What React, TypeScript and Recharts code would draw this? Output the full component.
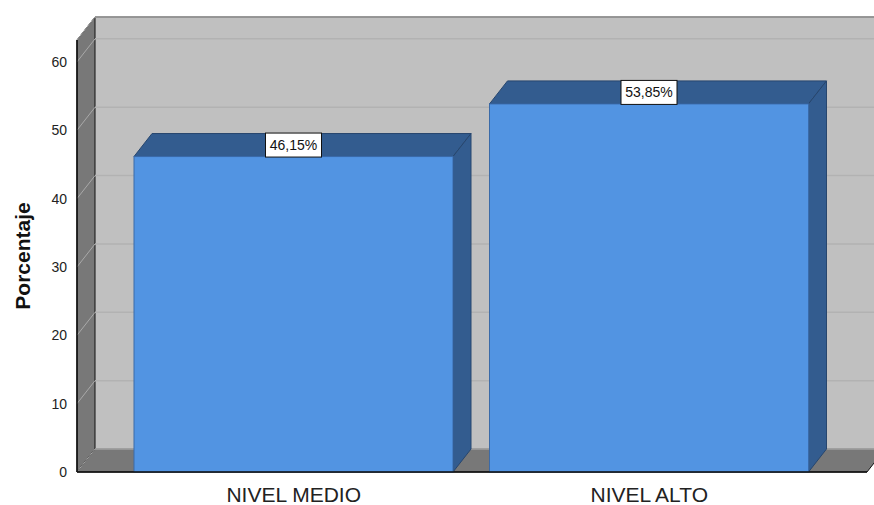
import React from 'react'
import { BarChart, Bar, XAxis, YAxis, CartesianGrid, LabelList } from 'recharts'

const categories = ['NIVEL MEDIO', 'NIVEL ALTO']
const percentages = [46.15, 53.85]
const yTicks = [0, 10, 20, 30, 40, 50, 60]

const data = categories.map((nivel, i) => ({ nivel, pct: percentages[i] }))

const W = 874
const H = 505
const LEFT = 77
const TOP = 40
const BOTTOM = 472
const RIGHT = 867
const DX = 18
const DY = 23
const FONT = '"Liberation Sans", Arial, sans-serif'

const fmt = (v: number) => v.toFixed(2).replace('.', ',') + '%'

function Bar3D(props: any) {
  const { x, y, width, height } = props
  const side = '#335c8f'
  return (
    <g>
      <polygon
        points={`${x},${y} ${x + DX},${y - DY} ${x + width + DX},${y - DY} ${x + width},${y}`}
        fill={side} stroke="#27466e" strokeWidth={1}
      />
      <polygon
        points={`${x + width},${y} ${x + width + DX},${y - DY} ${x + width + DX},${y + height - DY} ${x + width},${y + height}`}
        fill={side} stroke="#27466e" strokeWidth={1}
      />
      <rect x={x} y={y} width={width} height={height} fill="#5294e2" stroke="#3a6aa8" strokeWidth={1} />
    </g>
  )
}

function ValueBox(props: any) {
  const { x, y, width, value } = props
  const cx = x + width / 2
  const cy = y - DY / 2
  return (
    <g>
      <rect x={cx - 28} y={cy - 12} width={56} height={24} fill="#fff" stroke="#111" strokeWidth={1} />
      <text x={cx} y={cy + 5} textAnchor="middle" fontSize={14} fontFamily={FONT} fill="#111">
        {fmt(value)}
      </text>
    </g>
  )
}

function GridLine(props: any) {
  const { x1, y1, x2 } = props
  return (
    <g>
      <line x1={x1} y1={y1} x2={x1 + DX} y2={y1 - DY} stroke="#a9a9a9" strokeWidth={1} />
      <line x1={x1 + DX} y1={y1 - DY} x2={x2 + DX} y2={y1 - DY} stroke="#b2b2b2" strokeWidth={1.5} />
    </g>
  )
}

function YTick(props: any) {
  const { x, y, payload } = props
  return (
    <text x={x - 2} y={y + 5} textAnchor="end" fontSize={14} fontFamily={FONT} fill="#222">
      {payload.value}
    </text>
  )
}

function XTick(props: any) {
  const { x, payload } = props
  return (
    <text x={x} y={BOTTOM + 30} textAnchor="middle" fontSize={21} fontFamily={FONT} fill="#222">
      {payload.value}
    </text>
  )
}

function Walls() {
  return (
    <svg width={W} height={H} style={{ position: 'absolute', left: 0, top: 0 }}>
      <rect x={LEFT + DX} y={TOP - DY} width={W} height={BOTTOM - TOP} fill="#c0c0c0" />
      <line x1={LEFT + DX} y1={TOP - DY} x2={W} y2={TOP - DY} stroke="#111" strokeWidth={1.5} />
      <polygon
        points={`${LEFT},${TOP} ${LEFT + DX},${TOP - DY} ${LEFT + DX},${BOTTOM - DY} ${LEFT},${BOTTOM}`}
        fill="#787878" stroke="#111" strokeWidth={1}
      />
      <polygon
        points={`${LEFT},${BOTTOM} ${LEFT + DX},${BOTTOM - DY} ${RIGHT + DX},${BOTTOM - DY} ${RIGHT},${BOTTOM}`}
        fill="#787878" stroke="#111" strokeWidth={1}
      />
    </svg>
  )
}

export default function App() {
  return (
    <div style={{ position: 'absolute', left: 0, top: 0, width: W, height: H, background: '#fff' }}>
      <Walls />
      <div style={{ position: 'absolute', left: 0, top: 0 }}>
        <BarChart width={W} height={H} data={data} margin={{ top: TOP, right: W - RIGHT, bottom: 0, left: 0 }}>
          <CartesianGrid vertical={false} horizontal={(p: any) => <GridLine {...p} />} />
          <XAxis
            dataKey="nivel"
            height={H - BOTTOM}
            padding={{ left: 39, right: 40 }}
            tickLine={false}
            axisLine={{ stroke: '#111', strokeWidth: 1.5 }}
            tick={<XTick />}
          />
          <YAxis
            width={LEFT}
            domain={[0, 63.2]}
            ticks={yTicks}
            tickLine={false}
            axisLine={{ stroke: '#111', strokeWidth: 1.5 }}
            tick={<YTick />}
            label={{
              content: () => (
                <text
                  transform={`translate(30, ${(TOP + BOTTOM) / 2}) rotate(-90)`}
                  textAnchor="middle" fontSize={21} fontWeight="bold" fontFamily={FONT} fill="#111"
                >
                  Porcentaje
                </text>
              ),
            }}
          />
          <Bar dataKey="pct" barSize={319} shape={<Bar3D />} isAnimationActive={false}>
            <LabelList dataKey="pct" content={<ValueBox />} />
          </Bar>
        </BarChart>
      </div>
    </div>
  )
}
